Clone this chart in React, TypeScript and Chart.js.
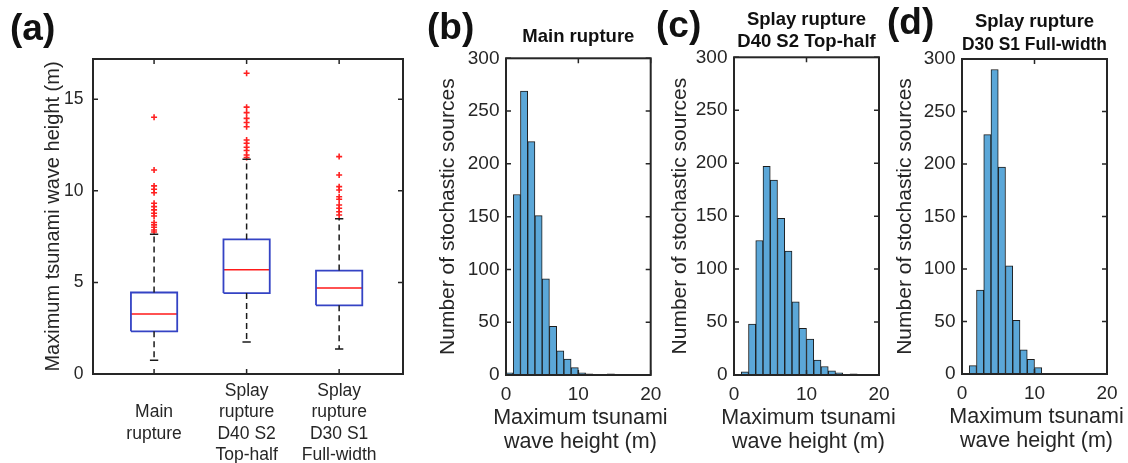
import React, { useEffect, useRef } from "react";
import { Chart, registerables } from "chart.js";

Chart.register(...registerables);
Chart.defaults.font.family = "'Liberation Sans', Arial, Helvetica, sans-serif";

// ---------- Panel (a): box plot data ----------
const boxCategories: string[][] = [
  ["Main", "rupture"],
  ["Splay", "rupture", "D40 S2", "Top-half"],
  ["Splay", "rupture", "D30 S1", "Full-width"],
];
const boxQ1 = [2.33, 4.42, 3.75];
const boxMedian = [3.27, 5.69, 4.69];
const boxQ3 = [4.45, 7.35, 5.65];
const whiskerLow = [0.75, 1.75, 1.36];
const whiskerHigh = [7.63, 11.72, 8.48];
const outliersMain = [14.02, 11.14, 10.27, 10.09, 9.9, 9.32, 9.14, 8.96, 8.78, 8.63, 8.27, 8.14, 8.01, 7.86, 7.75];
const outliersD40 = [16.42, 14.57, 14.27, 13.96, 13.73, 13.5, 12.78, 12.6, 12.38, 12.2, 11.96, 11.82];
const outliersD30 = [11.87, 10.87, 10.23, 10.05, 9.68, 9.54, 9.23, 9.05, 8.86, 8.68];
const boxOutliers = [outliersMain, outliersD40, outliersD30];
const boxYTicks = [0, 5, 10, 15];

// ---------- Histogram data (bin width 1 m, bins start at 0) ----------
const histXTicks = [0, 10, 20];
const histYTicks = [0, 50, 100, 150, 200, 250, 300];
const countsMain = [2, 171, 269, 221, 151, 91, 46, 23, 15, 7, 2, 1, 0, 0, 1, 0, 0, 0, 0, 0];
const countsD40 = [0, 3, 48, 127, 197, 184, 148, 117, 69, 44, 34, 14, 8, 4, 2, 0, 1, 0, 0, 0];
const countsD30 = [0, 8, 80, 228, 290, 197, 103, 51, 23, 14, 6, 0, 0, 0, 0, 0, 0, 0, 0, 0];
const histXTitle = ["Maximum tsunami", "wave height (m)"];

const TEXT = "#262626";
const FRAME = "#262626";
const FONT = "'Liberation Sans', Arial, Helvetica, sans-serif";

const framePlugin = {
  id: "frameTicks",
  afterDraw(chart: any) {
    const { ctx, chartArea } = chart;
    const xs = chart.scales.x;
    const ys = chart.scales.y;
    const tl = 5;
    ctx.save();
    ctx.strokeStyle = FRAME;
    ctx.lineWidth = 1.5;
    ctx.beginPath();
    xs.ticks.forEach((t: any) => {
      const px = xs.getPixelForValue(t.value);
      ctx.moveTo(px, chartArea.bottom);
      ctx.lineTo(px, chartArea.bottom - tl);
      ctx.moveTo(px, chartArea.top);
      ctx.lineTo(px, chartArea.top + tl);
    });
    ys.ticks.forEach((t: any) => {
      const py = ys.getPixelForValue(t.value);
      ctx.moveTo(chartArea.left, py);
      ctx.lineTo(chartArea.left + tl, py);
      ctx.moveTo(chartArea.right, py);
      ctx.lineTo(chartArea.right - tl, py);
    });
    ctx.stroke();
    ctx.lineWidth = 2;
    ctx.strokeRect(chartArea.left, chartArea.top, chartArea.right - chartArea.left, chartArea.bottom - chartArea.top);
    ctx.restore();
  },
};

// x-axis title drawn without the scale's maxWidth squeeze
const outerXTitlePlugin = {
  id: "outerXTitle",
  afterDraw(chart: any, _args: any, opts: any) {
    if (!opts || !opts.text) return;
    const { ctx, chartArea } = chart;
    const cx = (chartArea.left + chartArea.right) / 2 + (opts.shift || 0);
    ctx.save();
    ctx.fillStyle = opts.color;
    ctx.font = `${opts.size}px ${FONT}`;
    ctx.textAlign = "center";
    ctx.textBaseline = "middle";
    opts.text.forEach((line: string, i: number) => {
      ctx.fillText(line, cx, chartArea.bottom + opts.offset + i * opts.lineHeight);
    });
    ctx.restore();
  },
};

function buildBoxConfig(): any {
  const half = 0.25;
  const cap = 0.045;
  const gap = { x: NaN, y: null };
  const boxes: any[] = [];
  const medians: any[] = [];
  const whiskers: any[] = [];
  const caps: any[] = [];
  const outs: any[] = [];
  boxCategories.forEach((_, i) => {
    const x = i + 1;
    boxes.push(
      { x: x - half, y: boxQ1[i] },
      { x: x + half, y: boxQ1[i] },
      { x: x + half, y: boxQ3[i] },
      { x: x - half, y: boxQ3[i] },
      { x: x - half, y: boxQ1[i] },
      gap
    );
    medians.push({ x: x - half, y: boxMedian[i] }, { x: x + half, y: boxMedian[i] }, gap);
    whiskers.push(
      { x, y: boxQ3[i] }, { x, y: whiskerHigh[i] }, gap,
      { x, y: boxQ1[i] }, { x, y: whiskerLow[i] }, gap
    );
    caps.push(
      { x: x - cap, y: whiskerHigh[i] }, { x: x + cap, y: whiskerHigh[i] }, gap,
      { x: x - cap, y: whiskerLow[i] }, { x: x + cap, y: whiskerLow[i] }, gap
    );
    boxOutliers[i].forEach((v) => outs.push({ x, y: v }));
  });
  const seg = (data: any[], color: string, width: number, dash: number[] = []) => ({
    type: "line",
    data,
    borderColor: color,
    borderWidth: width,
    borderDash: dash,
    pointRadius: 0,
    showLine: true,
    spanGaps: false,
    fill: false,
    tension: 0,
  });
  return {
    type: "scatter",
    data: {
      datasets: [
        seg(whiskers, "#1a1a1a", 1.5, [6, 4]),
        seg(caps, "#1a1a1a", 1.5),
        seg(boxes, "#3443c4", 1.8),
        seg(medians, "#ff1a1a", 1.5),
        {
          type: "scatter",
          data: outs,
          pointStyle: "cross",
          pointRadius: 3,
          borderColor: "#ff2020",
          borderWidth: 1.6,
          backgroundColor: "#ff2020",
        },
      ],
    },
    options: {
      animation: false,
      responsive: false,
      layout: { padding: { left: 0, top: 59, right: 17, bottom: 0 } },
      plugins: { legend: { display: false }, tooltip: { enabled: false }, title: { display: false } },
      scales: {
        x: {
          type: "linear",
          min: 0.34,
          max: 3.69,
          grid: { display: false, drawTicks: false },
          border: { display: false },
          afterBuildTicks: (s: any) => {
            s.ticks = boxCategories.map((_, i) => ({ value: i + 1 }));
          },
          afterFit: (s: any) => {
            s.height = 89;
          },
          ticks: {
            autoSkip: false,
            maxRotation: 0,
            minRotation: 0,
            crossAlign: "center",
            padding: 17,
            color: TEXT,
            font: { size: 17.5, lineHeight: 21.5 / 17.5 },
            callback: (v: any) => boxCategories[Math.round(v) - 1] || "",
          },
        },
        y: {
          min: 0,
          max: 17.2,
          grid: { display: false, drawTicks: false },
          border: { display: false },
          afterBuildTicks: (s: any) => {
            s.ticks = boxYTicks.map((v) => ({ value: v }));
          },
          afterFit: (s: any) => {
            s.width = 93;
          },
          ticks: { color: TEXT, padding: 9.5, font: { size: 17.5 } },
          title: {
            display: true,
            text: "Maximum tsunami wave height (m)",
            color: TEXT,
            font: { size: 20, lineHeight: 1.2 },
            padding: { top: 41, bottom: 0 },
          },
        },
      },
    },
    plugins: [framePlugin],
  };
}

function buildHistConfig(
  counts: number[],
  title: string[],
  p: { yWidth: number; yTitlePad: number; right: number; bottom: number; tPadTop: number; tPadBottom: number; tLine: number }
): any {
  return {
    type: "bar",
    data: {
      datasets: [
        {
          data: counts.map((c, i) => ({ x: i + 0.5, y: c })),
          backgroundColor: "rgb(91,167,216)",
          borderColor: "#1c1c1c",
          borderWidth: 1,
          borderSkipped: false,
          barPercentage: 1,
          categoryPercentage: 1,
        },
      ],
    },
    options: {
      animation: false,
      responsive: false,
      layout: { padding: { left: 0, top: 0, right: p.right, bottom: 0 } },
      plugins: {
        legend: { display: false },
        tooltip: { enabled: false },
        title: {
          display: true,
          text: title,
          fullSize: false,
          color: "#111",
          font: { size: 18.5, weight: "bold", lineHeight: p.tLine / 18.5 },
          padding: { top: p.tPadTop, bottom: p.tPadBottom },
        },
        outerXTitle: { text: histXTitle, size: 21.5, lineHeight: 24, offset: 43, color: TEXT, shift: 2 },
      },
      scales: {
        x: {
          type: "linear",
          min: 0,
          max: 20,
          offset: false,
          grid: { display: false, drawTicks: false },
          border: { display: false },
          afterBuildTicks: (s: any) => {
            s.ticks = histXTicks.map((v) => ({ value: v }));
          },
          afterFit: (s: any) => {
            s.height = 463 - p.bottom;
          },
          ticks: { color: TEXT, padding: 8.5, font: { size: 19 }, maxRotation: 0, autoSkip: false },
        },
        y: {
          min: 0,
          max: 300,
          grid: { display: false, drawTicks: false },
          border: { display: false },
          afterBuildTicks: (s: any) => {
            s.ticks = histYTicks.map((v) => ({ value: v }));
          },
          afterFit: (s: any) => {
            s.width = p.yWidth;
          },
          ticks: { color: TEXT, padding: 6.5, font: { size: 19 } },
          title: {
            display: true,
            text: "Number of stochastic sources",
            color: TEXT,
            font: { size: 21, lineHeight: 1.2 },
            padding: { top: p.yTitlePad, bottom: 0 },
          },
        },
      },
    },
    plugins: [framePlugin, outerXTitlePlugin],
  };
}

function ChartCanvas({ left, width, config }: { left: number; width: number; config: () => any }) {
  const ref = useRef<HTMLCanvasElement | null>(null);
  useEffect(() => {
    if (!ref.current) return;
    const chart = new Chart(ref.current, config());
    return () => chart.destroy();
  }, []);
  return (
    <canvas
      ref={ref}
      width={width}
      height={463}
      style={{ position: "absolute", left, top: 0, width, height: 463 }}
    />
  );
}

const letterStyle = (left: number, top: number): React.CSSProperties => ({
  position: "absolute",
  left,
  top,
  fontFamily: FONT,
  fontWeight: "bold",
  fontSize: 37,
  lineHeight: "37px",
  color: "#111",
  whiteSpace: "nowrap",
});

export default function App() {
  useEffect(() => {
    document.body.style.margin = "0";
  }, []);
  return (
    <div style={{ position: "relative", width: 1128, height: 463, background: "#fff", overflow: "hidden" }}>
      <ChartCanvas left={0} width={420} config={buildBoxConfig} />
      <ChartCanvas
        left={420}
        width={270}
        config={() =>
          buildHistConfig(countsMain, ["Main rupture"], {
            yWidth: 86, yTitlePad: 15.4, right: 39.3, bottom: 375, tPadTop: 25.3, tPadBottom: 10.2, tLine: 22.8,
          })
        }
      />
      <ChartCanvas
        left={655}
        width={245}
        config={() =>
          buildHistConfig(countsD40, ["Splay rupture", "D40 S2 Top-half"], {
            yWidth: 79, yTitlePad: 12.4, right: 21, bottom: 375, tPadTop: 9, tPadBottom: 4.3, tLine: 22,
          })
        }
      />
      <ChartCanvas
        left={885}
        width={243}
        config={() =>
          buildHistConfig(countsD30, ["Splay rupture", "D30 S1 Full-width"], {
            yWidth: 77, yTitlePad: 7.4, right: 21, bottom: 374, tPadTop: 10.2, tPadBottom: 2.8, tLine: 23,
          })
        }
      />
      <div style={letterStyle(10, 8.7)}>(a)</div>
      <div style={letterStyle(427, 7.7)}>(b)</div>
      <div style={letterStyle(656, 5.7)}>(c)</div>
      <div style={letterStyle(887, 2.7)}>(d)</div>
    </div>
  );
}
